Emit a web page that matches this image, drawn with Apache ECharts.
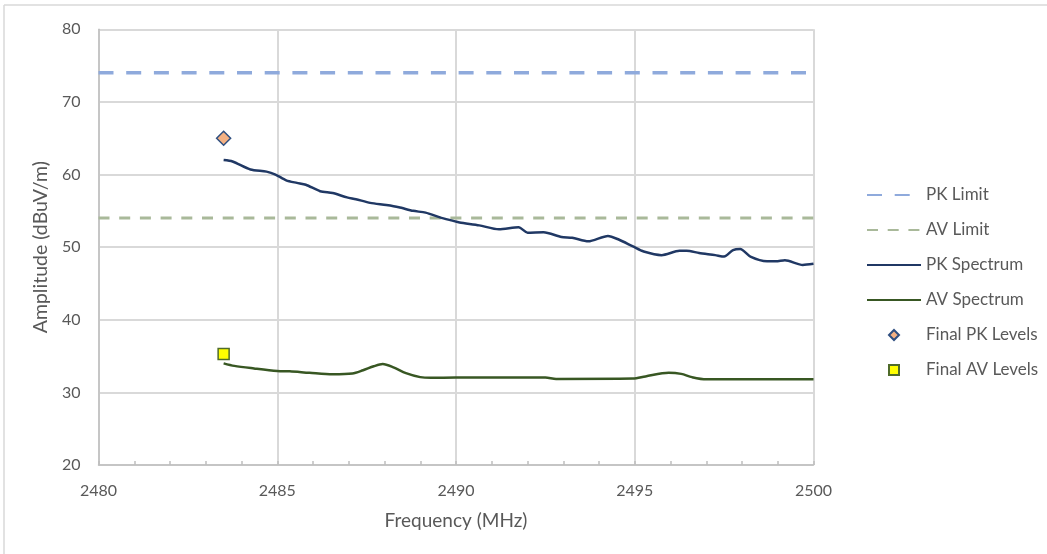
<!DOCTYPE html>
<html>
<head>
<meta charset="utf-8">
<script src="https://cdn.jsdelivr.net/npm/echarts@6/dist/echarts.min.js"></script>
<style>
html,body{margin:0;padding:0;background:#fff;}
#chart{width:1047px;height:554px;}
</style>
</head>
<body>
<div id="chart"></div>
<script>
// ---- data ----
const pkLimitFreq = [2480, 2500];
const pkLimitAmp = [74, 74];
const avLimitFreq = [2480, 2500];
const avLimitAmp = [54, 54];

const pkSpecFreq = [2483.5, 2483.75, 2484.25, 2484.7, 2484.95, 2485.25, 2485.55, 2485.8, 2486.2, 2486.55,
  2486.95, 2487.2, 2487.6, 2488.05, 2488.4, 2488.8, 2489.15, 2489.55, 2489.9, 2490.1,
  2490.65, 2491.2, 2491.75, 2492.0, 2492.45, 2492.95, 2493.25, 2493.7, 2494.25, 2494.55,
  2494.95, 2495.25, 2495.75, 2496.25, 2496.45, 2496.8, 2497.25, 2497.5, 2497.75, 2497.95,
  2498.25, 2498.7, 2498.95, 2499.2, 2499.7, 2500.0];
const pkSpecAmp = [62.0, 61.8, 60.7, 60.4, 60.0, 59.2, 58.85, 58.6, 57.7, 57.45,
  56.85, 56.6, 56.1, 55.8, 55.5, 55.0, 54.75, 54.1, 53.65, 53.4,
  53.0, 52.45, 52.75, 52.0, 52.05, 51.4, 51.3, 50.8, 51.55, 51.05,
  50.1, 49.4, 48.9, 49.5, 49.5, 49.2, 48.9, 48.7, 49.6, 49.75,
  48.65, 48.05, 48.05, 48.2, 47.55, 47.7];

const avSpecFreq = [2483.5, 2483.8, 2484.35, 2485.0, 2485.35, 2485.9, 2486.55, 2487.1, 2487.4, 2487.7,
  2487.95, 2488.25, 2488.6, 2489.0, 2489.3, 2490.0, 2491.2, 2492.5, 2492.8, 2494.95,
  2495.3, 2495.95, 2496.3, 2496.6, 2497.0, 2500.0];
const avSpecAmp = [34.0, 33.65, 33.3, 32.95, 32.9, 32.7, 32.5, 32.6, 33.05, 33.6,
  33.9, 33.45, 32.65, 32.1, 32.0, 32.05, 32.05, 32.05, 31.85, 31.9,
  32.2, 32.7, 32.55, 32.1, 31.8, 31.8];

const finalPkFreq = [2483.5];
const finalPkAmp = [65.0];
const finalAvFreq = [2483.5];
const finalAvAmp = [35.3];

const xTicks = {min: 2480, max: 2500, interval: 5};
const yTicks = {min: 20, max: 80, interval: 10};

function pairs(xs, ys) { return xs.map((x, i) => [x, ys[i]]); }

const FONT = 'Lato';
const TXT = '#595959';

const chart = echarts.init(document.getElementById('chart'), null, {renderer: 'canvas'});
chart.setOption({
  animation: false,
  backgroundColor: '#ffffff',
  textStyle: {fontFamily: FONT},
  grid: {left: 98.5, right: 233.5, top: 29.3, bottom: 89, containLabel: false},
  graphic: [
    {type: 'line', shape: {x1: 4, y1: 5, x2: 1047, y2: 5}, style: {stroke: '#d9d9d9', lineWidth: 1.5}},
    {type: 'line', shape: {x1: 4, y1: 5, x2: 4, y2: 554}, style: {stroke: '#d9d9d9', lineWidth: 1.5}}
  ],
  legend: {
    orient: 'vertical',
    left: 861,
    top: 181.5,
    itemWidth: 54,
    itemHeight: 10,
    itemGap: 18,
    symbolKeepAspect: true,
    textStyle: {color: TXT, fontSize: 17, fontFamily: FONT},
    data: [
      {name: 'PK Limit', itemStyle: {opacity: 0}},
      {name: 'AV Limit', itemStyle: {opacity: 0}},
      {name: 'PK Spectrum', itemStyle: {opacity: 0}},
      {name: 'AV Spectrum', itemStyle: {opacity: 0}},
      {name: 'Final PK Levels', icon: 'path://M5,0L10,5L5,10L0,5Z'},
      {name: 'Final AV Levels', icon: 'path://M0,0H10V10H0Z'}
    ]
  },
  xAxis: {
    type: 'value',
    min: xTicks.min, max: xTicks.max, interval: xTicks.interval,
    name: 'Frequency (MHz)',
    nameLocation: 'middle',
    nameGap: 46,
    nameTextStyle: {color: TXT, fontSize: 19, fontFamily: FONT},
    axisLine: {show: true, lineStyle: {color: '#bfbfbf', width: 1.5}},
    axisTick: {show: true, inside: true, length: 4, lineStyle: {color: '#bfbfbf', width: 1.5}},
    minorTick: {show: true, splitNumber: 5, length: 4, lineStyle: {color: '#bfbfbf', width: 1.5}},
    axisLabel: {color: TXT, fontSize: 16, margin: 18, fontFamily: FONT, formatter: v => String(v)},
    splitLine: {show: true, lineStyle: {color: '#d9d9d9', width: 2}}
  },
  yAxis: {
    type: 'value',
    min: yTicks.min, max: yTicks.max, interval: yTicks.interval,
    name: 'Amplitude (dBuV/m)',
    nameLocation: 'middle',
    nameRotate: 90,
    nameGap: 40,
    nameTextStyle: {color: TXT, fontSize: 19.5, fontFamily: FONT},
    axisLine: {show: true, lineStyle: {color: '#bfbfbf', width: 1.5}},
    axisTick: {show: false},
    axisLabel: {color: TXT, fontSize: 16, margin: 18, fontFamily: FONT},
    splitLine: {show: true, lineStyle: {color: '#d9d9d9', width: 2}}
  },
  series: [
    {
      name: 'PK Limit', type: 'line', data: pairs(pkLimitFreq, pkLimitAmp),
      symbol: 'none', z: 3,
      lineStyle: {color: '#8faadc', width: 3.5, type: [15, 12.7]},
      itemStyle: {color: '#8faadc'}
    },
    {
      name: 'AV Limit', type: 'line', data: pairs(avLimitFreq, avLimitAmp),
      symbol: 'none', z: 3,
      lineStyle: {color: '#a9b99a', width: 3, type: [11, 9.7]},
      itemStyle: {color: '#a9b99a'}
    },
    {
      name: 'PK Spectrum', type: 'line', data: pairs(pkSpecFreq, pkSpecAmp),
      symbol: 'none', smooth: 0.25, z: 4,
      lineStyle: {color: '#203864', width: 2.5},
      itemStyle: {color: '#203864'}
    },
    {
      name: 'AV Spectrum', type: 'line', data: pairs(avSpecFreq, avSpecAmp),
      symbol: 'none', smooth: 0.3, z: 4,
      lineStyle: {color: '#385723', width: 2.5},
      itemStyle: {color: '#385723'}
    },
    {
      name: 'Final PK Levels', type: 'scatter', data: pairs(finalPkFreq, finalPkAmp),
      symbol: 'diamond', symbolSize: [14, 14], z: 5,
      itemStyle: {color: '#f4b183', borderColor: '#2f4f80', borderWidth: 1.5, opacity: 1}
    },
    {
      name: 'Final AV Levels', type: 'scatter', data: pairs(finalAvFreq, finalAvAmp),
      symbol: 'rect', symbolSize: [11, 11], z: 5,
      itemStyle: {color: '#ffff00', borderColor: '#4f6b2a', borderWidth: 1.5, opacity: 1}
    }
  ]
});
</script>
</body>
</html>
